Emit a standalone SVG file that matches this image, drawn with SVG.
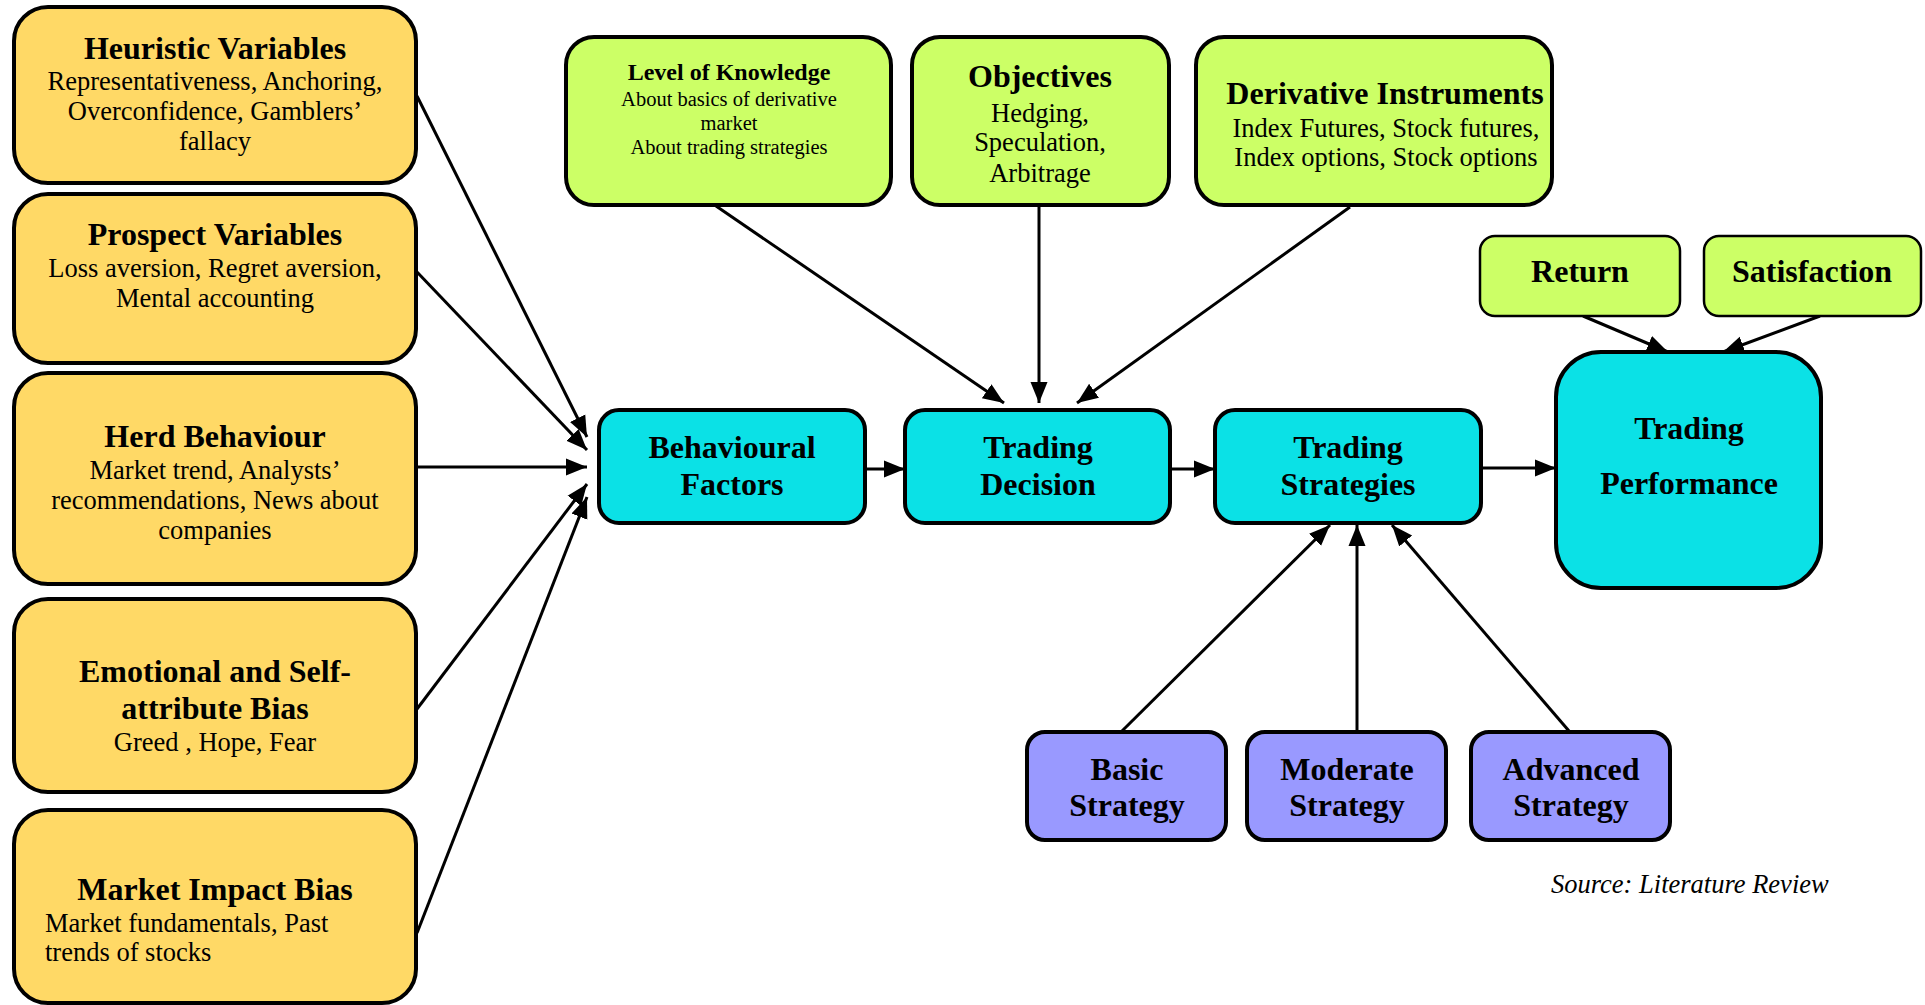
<svg xmlns="http://www.w3.org/2000/svg" width="1925" height="1005" viewBox="0 0 1925 1005">
<defs>
<marker id="ah" markerUnits="userSpaceOnUse" markerWidth="24" markerHeight="20" viewBox="0 0 24 20" refX="21" refY="10" orient="auto">
<path d="M0,1.5 L21,10 L0,18.5 Z" fill="#000"/>
</marker>
<style>
text{font-family:"Liberation Serif","Times New Roman",serif;fill:#000;text-anchor:middle}
.t{font-weight:bold;font-size:32px}
.b{font-size:26.5px}
.orange{fill:#FFD966;stroke:#000;stroke-width:4}
.green{fill:#CCFF66;stroke:#000;stroke-width:4}
.green2{fill:#CCFF66;stroke:#000;stroke-width:2.5}
.cyan{fill:#0BE1E6;stroke:#000;stroke-width:4}
.purple{fill:#9999FF;stroke:#000;stroke-width:4}
.c line{stroke:#000;stroke-width:3;marker-end:url(#ah)}
</style>
</defs>
<rect width="1925" height="1005" fill="#fff"/>
<g class="c" id="connectors">
<line x1="417" y1="96" x2="587" y2="437"/>
<line x1="417" y1="272" x2="587" y2="450"/>
<line x1="417" y1="467" x2="587" y2="467"/>
<line x1="417" y1="709" x2="587" y2="484"/>
<line x1="417" y1="933" x2="587" y2="497"/>
<line x1="716" y1="206" x2="1004" y2="403"/>
<line x1="1039" y1="206" x2="1039" y2="403"/>
<line x1="1350" y1="207" x2="1077" y2="403"/>
<line x1="865" y1="469" x2="905" y2="469"/>
<line x1="1170" y1="469" x2="1215" y2="469"/>
<line x1="1481" y1="468" x2="1556" y2="468"/>
<line x1="1122" y1="731" x2="1330" y2="525"/>
<line x1="1357" y1="731" x2="1357" y2="525"/>
<line x1="1569" y1="731" x2="1392" y2="525"/>
<line x1="1583" y1="316" x2="1668" y2="352"/>
<line x1="1820" y1="316" x2="1723" y2="352"/>
</g>
<g id="heuristic"><rect class="orange" x="14" y="7" width="402" height="176" rx="34"/>
<text class="t" x="215" y="59">Heuristic Variables</text>
<text class="b" x="215" y="90">Representativeness, Anchoring,</text>
<text class="b" x="215" y="120">Overconfidence, Gamblers’</text>
<text class="b" x="215" y="150">fallacy</text></g>
<g id="prospect"><rect class="orange" x="14" y="194" width="402" height="169" rx="34"/>
<text class="t" x="215" y="245">Prospect Variables</text>
<text class="b" x="215" y="277">Loss aversion, Regret aversion,</text>
<text class="b" x="215" y="307">Mental accounting</text></g>
<g id="herd"><rect class="orange" x="14" y="373" width="402" height="211" rx="34"/>
<text class="t" x="215" y="447">Herd Behaviour</text>
<text class="b" x="215" y="479">Market trend, Analysts’</text>
<text class="b" x="215" y="509">recommendations, News about</text>
<text class="b" x="215" y="539">companies</text></g>
<g id="emotional"><rect class="orange" x="14" y="599" width="402" height="193" rx="34"/>
<text class="t" x="215" y="682">Emotional and Self-</text>
<text class="t" x="215" y="719">attribute Bias</text>
<text class="b" x="215" y="751">Greed , Hope, Fear</text></g>
<g id="market"><rect class="orange" x="14" y="810" width="402" height="193" rx="34"/>
<text class="t" x="215" y="900">Market Impact Bias</text>
<text class="b" x="45" y="932" style="text-anchor:start">Market fundamentals, Past</text>
<text class="b" x="45" y="961" style="text-anchor:start">trends of stocks</text></g>
<g id="knowledge"><rect class="green" x="566" y="37" width="325" height="168" rx="28"/>
<text x="729" y="80" style="font-weight:bold;font-size:24px">Level of Knowledge</text>
<text x="729" y="106" style="font-size:20.5px">About basics of derivative</text>
<text x="729" y="130" style="font-size:20.5px">market</text>
<text x="729" y="154" style="font-size:20.5px">About trading strategies</text></g>
<g id="objectives"><rect class="green" x="912" y="37" width="257" height="168" rx="28"/>
<text class="t" x="1040" y="87">Objectives</text>
<text class="b" x="1040" y="122">Hedging,</text>
<text class="b" x="1040" y="151">Speculation,</text>
<text class="b" x="1040" y="182">Arbitrage</text></g>
<g id="instruments"><rect class="green" x="1196" y="37" width="356" height="168" rx="28"/>
<text x="1385" y="104" style="font-weight:bold;font-size:32px">Derivative Instruments</text>
<text class="b" x="1386" y="137">Index Futures, Stock futures,</text>
<text class="b" x="1386" y="166">Index options, Stock options</text></g>
<g id="behavioural"><rect class="cyan" x="599" y="410" width="266" height="113" rx="20"/>
<text class="t" x="732" y="458">Behavioural</text>
<text class="t" x="732" y="495">Factors</text></g>
<g id="decision"><rect class="cyan" x="905" y="410" width="265" height="113" rx="20"/>
<text class="t" x="1038" y="458">Trading</text>
<text class="t" x="1038" y="495">Decision</text></g>
<g id="strategies"><rect class="cyan" x="1215" y="410" width="266" height="113" rx="20"/>
<text class="t" x="1348" y="458">Trading</text>
<text class="t" x="1348" y="495">Strategies</text></g>
<g id="performance"><rect class="cyan" x="1556" y="352" width="265" height="236" rx="45"/>
<text class="t" x="1689" y="439">Trading</text>
<text class="t" x="1689" y="494">Performance</text></g>
<g id="return"><rect class="green2" x="1480" y="236" width="200" height="80" rx="15"/>
<text class="t" x="1580" y="282">Return</text></g>
<g id="satisfaction"><rect class="green2" x="1704" y="236" width="217" height="80" rx="15"/>
<text class="t" x="1812" y="282">Satisfaction</text></g>
<g id="basic"><rect class="purple" x="1027" y="732" width="199" height="108" rx="18"/>
<text class="t" x="1127" y="780">Basic</text>
<text class="t" x="1127" y="816">Strategy</text></g>
<g id="moderate"><rect class="purple" x="1247" y="732" width="199" height="108" rx="18"/>
<text class="t" x="1347" y="780">Moderate</text>
<text class="t" x="1347" y="816">Strategy</text></g>
<g id="advanced"><rect class="purple" x="1471" y="732" width="199" height="108" rx="18"/>
<text class="t" x="1571" y="780">Advanced</text>
<text class="t" x="1571" y="816">Strategy</text></g>
<text x="1551" y="893" style="font-style:italic;font-size:26.5px;text-anchor:start">Source: Literature Review</text>
</svg>
